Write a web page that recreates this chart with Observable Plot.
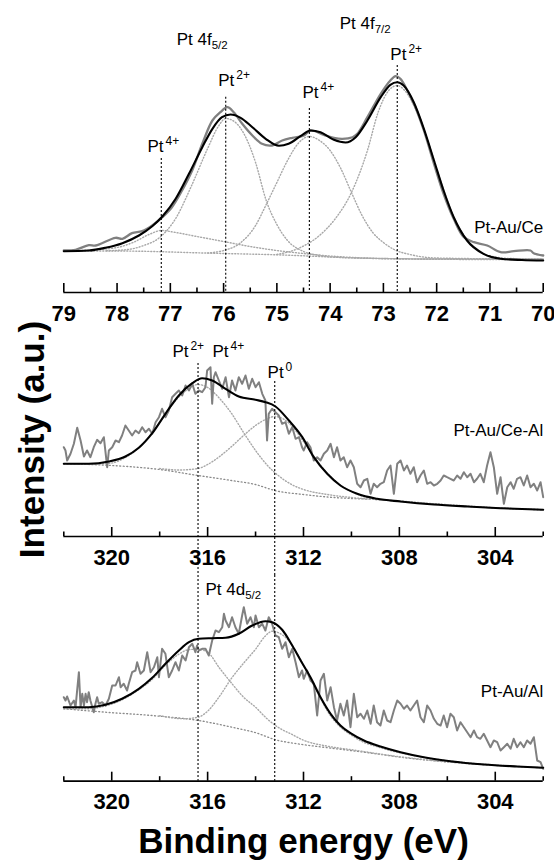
<!DOCTYPE html>
<html><head><meta charset="utf-8">
<script src="https://cdn.jsdelivr.net/npm/d3@7"></script>
<script src="https://cdn.jsdelivr.net/npm/@observablehq/plot@0.6"></script>
<style>
body{margin:0;background:#fff;}
#wrap{position:relative;width:554px;height:863px;font-family:"Liberation Sans",Arial,Helvetica,sans-serif;overflow:hidden;}
.title{position:absolute;font-weight:bold;font-size:35px;line-height:35px;height:35px;white-space:nowrap;color:#000;text-align:center;}
</style></head><body><div id="wrap"></div>
<script>
// ---------- Panel 1: Pt-Au/Ce, Pt 4f (binding energy eV, intensity a.u.) ----------
const ceTicksMajor = [79,78,77,76,75,74,73,72,71,70];
const ceTicksMinor = [78.5,77.5,76.5,75.5,74.5,73.5,72.5,71.5,70.5];
const ceRaw = [[79.0,42],[78.78,42.7],[78.53,47.3],[78.40,47],[78.03,54.7],[77.90,53.7],[77.72,59.3],[77.53,61.3],[77.34,67],[77.15,75.3],[76.97,85.3],[76.78,102],[76.59,122],[76.40,148.7],[76.21,172],[76.06,180.3],[75.93,185.3],[75.81,180.3],[75.65,168.7],[75.46,157],[75.28,148.7],[75.09,147],[74.90,152],[74.71,154.7],[74.49,157],[74.37,162],[74.12,157.7],[73.93,154.7],[73.77,153.7],[73.58,155.3],[73.49,158.7],[73.30,175.3],[73.05,198.7],[72.87,212],[72.77,216.3],[72.68,213.7],[72.55,202],[72.40,185.3],[72.24,162],[72.05,128.7],[71.87,98.7],[71.68,73.7],[71.49,55.3],[71.30,50.3],[71.05,47],[70.80,40.3],[70.55,41.3],[70.24,42],[70.18,39.3],[70.0,37]];
const ceFit = [[79.0,41.3],[78.53,42],[78.22,44.7],[77.90,49.3],[77.59,57],[77.34,66.3],[77.15,76],[76.90,93.7],[76.65,118.7],[76.40,145.3],[76.21,163.7],[76.03,175.3],[75.87,178],[75.68,174.7],[75.46,165.3],[75.21,153.7],[74.96,146.7],[74.78,148.7],[74.52,157.7],[74.37,162],[74.18,160.3],[73.93,152.7],[73.71,150],[73.52,155.3],[73.30,172],[73.05,195.3],[72.87,207.7],[72.74,210.3],[72.62,207],[72.43,190.3],[72.24,163.7],[72.05,132],[71.87,102],[71.68,75.3],[71.43,52],[71.12,38.7],[70.80,33.7],[70.4,32.5],[70.0,32]];
const ceBg = [[79,41.5],[78,41.5],[77.5,41.2],[77,40.5],[76.5,39.7],[76,39],[75.5,38.4],[75,37.7],[74.5,36.7],[74,35.5],[73.5,34.5],[73,33.8],[72.5,33.4],[72,33.2],[71,33],[70,33]];
const cePt4a = [[79,41.5],[78.5,42.5],[78,45],[77.7,50],[77.4,58],[77.17,62],[76.9,60],[76.5,56],[76,51],[75.5,46],[75,42],[74.5,39],[74,36.5],[73,34],[72,33.5],[70,33.3]];
const cePt2a = [[78.2,41.7],[77.8,43],[77.5,47],[77.2,55],[76.9,74],[76.6,107],[76.3,144],[76.1,166],[75.96,174],[75.8,171],[75.6,157],[75.4,130],[75.2,92],[75.0,68],[74.8,52],[74.5,41],[74.2,37],[73.8,35],[73,34],[72,33.5],[70,33.3]];
const cePt4b = [[76.3,39.5],[76.0,42],[75.7,49],[75.4,67],[75.2,88],[75.0,110],[74.8,132],[74.6,149],[74.39,156],[74.2,152],[74.0,142],[73.8,124],[73.6,100],[73.4,77],[73.2,60],[73.0,50],[72.8,43],[72.5,38],[72,34.5],[70,33.3]];
const cePt2b = [[75,38],[74.6,44],[74.2,57],[73.9,74],[73.6,100],[73.3,142],[73.1,180],[72.9,202],[72.74,207],[72.6,202],[72.4,184],[72.2,157],[72.0,124],[71.8,92],[71.6,67],[71.4,51],[71.2,41],[71.0,36.5],[70.6,34],[70,33.5]];
const ceMarkers = [[77.17,134],[75.96,195.3],[74.39,184],[72.74,227]];
const ceLabels = [[76.88,248,"Pt 4f_5/2","start"],[73.82,264,"Pt 4f_7/2","start"],[72.87,233,"Pt^2+","start"],[76.10,207,"Pt^2+","start"],[74.52,194.7,"Pt^4+","start"],[77.43,141,"Pt^4+","start"],[70.0,60,"Pt-Au/Ce","end"]];

// ---------- Panel 2: Pt-Au/Ce-Al, Pt 4d ----------
const dTicksMajor = [320,316,312,308,304];
const dTicksMinor = [322,318,314,310,306,302];
const caRaw = [[322.0,89.3],[321.93,86],[321.86,76],[321.72,82.7],[321.58,92.7],[321.44,108.7],[321.30,96],[321.16,80],[321.03,86],[320.89,79.3],[320.75,89.3],[320.61,96.7],[320.47,93.3],[320.33,99.3],[320.19,69.3],[320.12,86],[319.98,89.3],[319.84,96],[319.70,94.3],[319.57,101],[319.43,111],[319.29,106],[319.15,101],[319.01,106],[318.87,103.3],[318.73,109.3],[318.59,104.3],[318.45,107.7],[318.31,102.7],[318.17,114.3],[318.03,119.3],[317.90,127.7],[317.76,119.3],[317.62,126],[317.48,139.3],[317.34,142.7],[317.20,146],[317.06,141],[316.92,151],[316.78,146],[316.64,152.7],[316.51,142.7],[316.37,146],[316.23,144.3],[316.09,149.3],[316.02,166],[315.88,169.3],[315.81,132.7],[315.74,159.3],[315.67,164.3],[315.53,156],[315.39,147.7],[315.25,159.3],[315.11,139.3],[314.98,156],[314.84,146],[314.70,159.3],[314.56,152.7],[314.42,161],[314.28,147.7],[314.14,157.7],[314.00,149.3],[313.86,154.3],[313.72,142.7],[313.59,136],[313.52,96],[313.45,122.7],[313.31,127.7],[313.17,124.3],[313.03,121],[312.89,112.7],[312.75,114.3],[312.61,102.7],[312.47,109.3],[312.33,97.7],[312.19,99.3],[312.06,89.3],[311.99,86],[311.85,94.3],[311.71,89.3],[311.57,76],[311.43,79.3],[311.29,76],[311.15,82.7],[311.01,86],[310.87,92.7],[310.73,79.3],[310.60,89.3],[310.46,76],[310.32,79.3],[310.18,69.3],[310.04,76],[309.90,69.3],[309.76,52.7],[309.62,49.3],[309.48,56],[309.34,57.7],[309.20,42.7],[309.07,52.7],[308.93,49.3],[308.79,52.7],[308.65,54.3],[308.51,66],[308.37,71],[308.23,42.7],[308.09,72.7],[307.95,76],[307.81,66],[307.68,71],[307.54,62.7],[307.40,69.3],[307.26,54.3],[307.12,61],[306.98,66],[306.84,52.7],[306.70,54.3],[306.56,51],[306.42,52.7],[306.28,56],[306.15,61],[306.01,59.3],[305.87,57.7],[305.73,56],[305.59,61],[305.45,57.7],[305.31,64.3],[305.17,59.3],[305.03,62.7],[304.89,54.3],[304.76,57.7],[304.62,62.7],[304.48,54.3],[304.34,71],[304.20,84.3],[304.06,69.3],[303.92,42.7],[303.78,59.3],[303.64,32.7],[303.50,49.3],[303.36,54.3],[303.23,47.7],[303.09,57.7],[302.95,59.3],[302.81,51],[302.67,61],[302.53,49.3],[302.39,52.7],[302.25,46],[302.11,54.3],[302.0,39.3]];
const caFit = [[322,72.7],[320.96,72.7],[320.12,75],[319.43,80],[318.87,88.7],[318.31,103.3],[317.76,122.7],[317.2,141],[316.64,153.3],[316.23,158.3],[315.81,156],[315.25,147.7],[314.7,140],[314.0,136.7],[313.58,134.3],[313.17,130],[312.61,116],[312.05,99.3],[311.57,79.3],[311.01,62.7],[310.46,51],[309.76,42.7],[308.93,37.7],[307.95,35],[306.56,32],[305.17,30],[303.78,28.3],[302,26.7]];
const caBg = [[322,72.7],[320,71],[318,67],[316.4,61],[315,56],[314,52],[313.2,46],[312,42],[311,39.5],[310,38],[309,37],[308,35],[306,31.5],[304,28.5],[302,26.7]];
const caPt2 = [[322,72.7],[321,72.2],[320,73.5],[319.5,78],[319,86],[318.5,98],[318,114],[317.5,131],[317,144],[316.4,152],[316,149],[315.5,138],[315,123],[314.5,104],[314,86],[313.5,71],[313,60],[312.5,52],[312,47],[311,42],[310,39],[308,35.5],[306,31.8],[304,28.7],[302,26.8]];
const caPt0 = [[318,68],[317.2,66.5],[316.4,68],[316,72],[315.5,80],[315,90],[314.5,101],[314,111],[313.5,118],[313.2,120],[312.8,117],[312.4,108],[312,95],[311.5,78],[311,63],[310.5,52],[310,45],[309.5,40],[309,37.5],[308,35.2],[306,31.6],[304,28.6],[302,26.8]];
const caMarkers = [[316.4,173,-39],[313.2,155,-39]];
const caLabels = [[317.47,180,"Pt^2+","start"],[315.80,180,"Pt^4+","start"],[313.50,159,"Pt^0","start"],[302,101,"Pt-Au/Ce-Al","end"]];

// ---------- Panel 3: Pt-Au/Al, Pt 4d ----------
const alRaw = [[322.0,84],[321.93,80.7],[321.86,84.7],[321.72,75.7],[321.58,80.7],[321.51,74],[321.37,109],[321.30,74],[321.23,87.4],[321.16,75.7],[321.09,87.4],[321.03,79],[320.96,89],[320.89,80.7],[320.75,69],[320.68,77.4],[320.61,84],[320.54,77.4],[320.40,79],[320.26,75.7],[320.12,82.4],[319.98,95.7],[319.84,95.7],[319.70,104],[319.63,94],[319.50,97.4],[319.36,90.7],[319.29,97.4],[319.15,109],[319.01,110.7],[318.94,119],[318.80,107.4],[318.66,110.7],[318.52,129],[318.38,109],[318.24,114],[318.10,124],[318.03,104],[317.90,132.4],[317.76,127.4],[317.62,104],[317.48,110.7],[317.34,119],[317.20,110.7],[317.06,125.7],[316.92,120.7],[316.78,134],[316.64,137.4],[316.51,129],[316.44,135.7],[316.37,130.7],[316.23,132.4],[316.09,132.4],[315.95,125.7],[315.81,140.7],[315.67,150.7],[315.53,149],[315.39,154],[315.32,167.4],[315.25,160.7],[315.11,154],[314.98,164],[314.84,154],[314.70,147.4],[314.56,165.7],[314.49,174],[314.35,157.4],[314.21,164],[314.07,154],[314.00,165.7],[313.86,154],[313.72,157.4],[313.59,150.7],[313.45,164],[313.31,157.4],[313.17,145.7],[313.03,144],[312.89,132.4],[312.75,139],[312.61,124],[312.47,132.4],[312.33,119],[312.19,104],[312.06,110.7],[311.99,102.4],[311.85,110.7],[311.71,100.7],[311.57,97.4],[311.43,65.7],[311.29,100.7],[311.15,107.4],[311.01,80.7],[310.87,94],[310.73,74],[310.60,60.7],[310.46,77.4],[310.32,65.7],[310.18,80.7],[310.04,54],[309.90,87.4],[309.76,64],[309.62,67.4],[309.48,62.4],[309.34,70.7],[309.20,57.4],[309.07,75.7],[308.93,59],[308.79,55.7],[308.65,70.7],[308.51,60.7],[308.37,59],[308.23,70.7],[308.09,80.7],[307.95,77.4],[307.81,72.4],[307.68,75.7],[307.54,70.7],[307.40,75.7],[307.26,80.7],[307.12,64],[306.98,59],[306.84,75.7],[306.70,70.7],[306.56,62.4],[306.42,57.4],[306.28,55.7],[306.15,65.7],[306.01,54],[305.87,67.4],[305.73,64],[305.59,50.7],[305.45,59],[305.31,54],[305.17,49],[305.03,44],[304.89,50.7],[304.76,44],[304.62,42.4],[304.48,47.4],[304.34,40.7],[304.20,34],[304.06,40.7],[303.92,39],[303.78,30.7],[303.64,34],[303.50,37.4],[303.36,32.4],[303.23,42.4],[303.09,34],[302.95,39],[302.81,34],[302.67,40.7],[302.53,37.4],[302.39,44],[302.25,20.7],[302.11,19],[302.0,12.4]];
const alFit = [[322,74],[320.96,74],[320.26,76.4],[319.57,82.4],[318.87,92.4],[318.31,103.4],[317.76,117.4],[317.2,130.7],[316.78,139],[316.37,142.4],[315.81,143],[315.25,143.4],[314.70,147.4],[314.14,155.7],[313.59,160],[313.31,159],[312.89,151.4],[312.47,135.7],[312.1,120],[311.71,104],[311.29,84],[310.87,67.4],[310.46,55.7],[310.04,48],[309.48,40.7],[308.79,34.7],[307.95,29],[306.98,24],[305.87,20],[304.48,16.7],[303.09,14.7],[302,13.4]];
const alBg = [[322,72.4],[320.26,69],[318,65],[316.37,60.7],[315,54],[314,48.5],[313.17,41.5],[312.13,37],[311,33.5],[310.04,30.7],[309,27.5],[307.95,24],[306,19.2],[304,15.8],[302,13.4]];
const alPt2 = [[322,72.4],[321,72.5],[320.3,75],[319.6,81],[318.9,91],[318.3,102],[317.8,115],[317.2,127],[316.8,131.5],[316.4,132],[316,129],[315.5,113],[315,98],[314.5,84],[314,74],[313.5,62],[313,53],[312.5,47],[312,41],[311,35],[310,31.5],[308,24.5],[306,19.4],[304,16],[302,13.4]];
const alPt0 = [[318,65.5],[317,62.5],[316.4,64],[316,70],[315.5,85],[315,103],[314.5,118],[314,132],[313.6,145],[313.3,150],[313,148],[312.6,140],[312.2,125],[311.8,106],[311.4,88],[311,70],[310.5,55],[310,46],[309.5,39],[309,35],[308,28.5],[307,24],[306,20.5],[305,18],[304,16.2],[302,13.4]];
const alMarkers = [[316.4,205.7,0],[313.2,205.7,0]];
const alLabels = [[316.09,186.7,"Pt 4d_5/2","start"],[302,84.7,"Pt-Au/Al","end"]];

const yTitle = "Intensity (a.u.)";
const xTitle = "Binding energy (eV)";

// ---------- drawing ----------
const FONT = "'Liberation Sans', Arial, Helvetica, sans-serif";
const SVGNS = "http://www.w3.org/2000/svg";

function richText(svg) {
  svg.querySelectorAll("text").forEach(t => {
    const s = t.textContent;
    const m = s.match(/^(.*?)([\^_])(.*)$/);
    if (!m) return;
    while (t.firstChild) t.removeChild(t.firstChild);
    const a = document.createElementNS(SVGNS, "tspan");
    a.textContent = m[1];
    t.appendChild(a);
    const b = document.createElementNS(SVGNS, "tspan");
    b.textContent = m[3];
    if (m[2] === "^") {
      b.setAttribute("font-size", "12");
      b.setAttribute("dy", "-6.5");
      b.setAttribute("dx", "2");
    } else {
      b.setAttribute("font-size", "11.5");
      b.setAttribute("dy", "4");
    }
    t.appendChild(b);
  });
}

function panel({top, height, axisY, xDomain, majors, minors, layers, markers, labels}) {
  const marks = [];
  for (const L of layers) {
    marks.push(Plot.line(L.data, {x: d => d[0], y: d => d[1], stroke: L.stroke, strokeWidth: L.width,
      strokeDasharray: L.dash, curve: L.curve || "monotone-x", strokeLinejoin: "round"}));
  }
  marks.push(Plot.ruleX(markers, {x: d => d[0], y1: d => d[1], y2: d => (d[2] ?? 0), stroke: "#000", strokeWidth: 1.1, strokeDasharray: "2,2"}));
  marks.push(Plot.ruleY([0], {stroke: "#000", strokeWidth: 1.7}));
  marks.push(Plot.ruleX(majors, {x: d => d, y1: 0, y2: 9, stroke: "#000", strokeWidth: 1.6}));
  marks.push(Plot.ruleX(minors, {x: d => d, y1: 0, y2: 4.5, stroke: "#000", strokeWidth: 1.6}));
  marks.push(Plot.text(majors, {x: d => d, y: 0, text: d => String(d), dy: 12.5, lineAnchor: "top",
    fontSize: 22, fontWeight: "bold", fill: "#000"}));
  marks.push(Plot.text(labels.filter(d => d[3] === "start"), {x: d => d[0], y: d => d[1], text: d => d[2],
    textAnchor: "start", lineAnchor: "bottom", fontSize: 17, fill: "#000"}));
  marks.push(Plot.text(labels.filter(d => d[3] === "end"), {x: d => d[0], y: d => d[1], text: d => d[2],
    textAnchor: "end", lineAnchor: "bottom", fontSize: 17, fill: "#000"}));
  const svg = Plot.plot({
    width: 554, height,
    marginLeft: 63.3, marginRight: 11.3, marginTop: 0, marginBottom: height - axisY,
    x: {domain: xDomain, axis: null},
    y: {domain: [0, axisY], axis: null},
    style: {fontFamily: FONT, background: "transparent", overflow: "visible", position: "absolute", left: "0px", top: top + "px"},
    marks
  });
  richText(svg);
  svg.style.position = "absolute";
  svg.style.left = "0px";
  svg.style.top = top + "px";
  return svg;
}

const RAW = "#808080", FIT = "#000", COMP = "#a8a8a8", BG = "#8a8a8a";
const wrap = document.getElementById("wrap");

wrap.appendChild(panel({
  top: 0, height: 325, axisY: 292, xDomain: [79, 70],
  majors: ceTicksMajor, minors: ceTicksMinor,
  layers: [
    {data: ceBg, stroke: COMP, width: 1.4, dash: "1,2"},
    {data: cePt4a, stroke: COMP, width: 1.4, dash: "1,2"},
    {data: cePt2a, stroke: COMP, width: 1.4, dash: "1,2"},
    {data: cePt4b, stroke: COMP, width: 1.4, dash: "1,2"},
    {data: cePt2b, stroke: COMP, width: 1.4, dash: "1,2"},
    {data: ceRaw, stroke: RAW, width: 2.3, curve: "catmull-rom"},
    {data: ceFit, stroke: FIT, width: 2.1}
  ],
  markers: ceMarkers, labels: ceLabels
}));

wrap.appendChild(panel({
  top: 325, height: 250, axisY: 211, xDomain: [322, 302],
  majors: dTicksMajor, minors: dTicksMinor,
  layers: [
    {data: caBg, stroke: BG, width: 1.3, dash: "1,2.5"},
    {data: caPt2, stroke: COMP, width: 1.4, dash: "1,2"},
    {data: caPt0, stroke: COMP, width: 1.4, dash: "1,2"},
    {data: caRaw, stroke: RAW, width: 2, curve: "linear"},
    {data: caFit, stroke: FIT, width: 2.1}
  ],
  markers: caMarkers, labels: caLabels
}));

wrap.appendChild(panel({
  top: 575, height: 240, axisY: 205.7, xDomain: [322, 302],
  majors: dTicksMajor, minors: dTicksMinor,
  layers: [
    {data: alBg, stroke: BG, width: 1.3, dash: "1,2.5"},
    {data: alPt2, stroke: COMP, width: 1.4, dash: "1,2"},
    {data: alPt0, stroke: COMP, width: 1.4, dash: "1,2"},
    {data: alRaw, stroke: RAW, width: 2, curve: "linear"},
    {data: alFit, stroke: FIT, width: 2.1}
  ],
  markers: alMarkers, labels: alLabels
}));

const yt = document.createElement("div");
yt.className = "title";
yt.textContent = yTitle;
yt.style.width = "320px";
yt.style.left = (30.5 - 160) + "px";
yt.style.top = (439 - 17.5) + "px";
yt.style.transform = "rotate(-90deg)";
yt.style.transformOrigin = "50% 50%";
wrap.appendChild(yt);

const xt = document.createElement("div");
xt.className = "title";
xt.textContent = xTitle;
xt.style.width = "440px";
xt.style.left = (303.5 - 220) + "px";
xt.style.top = (840 - 17.5) + "px";
wrap.appendChild(xt);
</script></body></html>
